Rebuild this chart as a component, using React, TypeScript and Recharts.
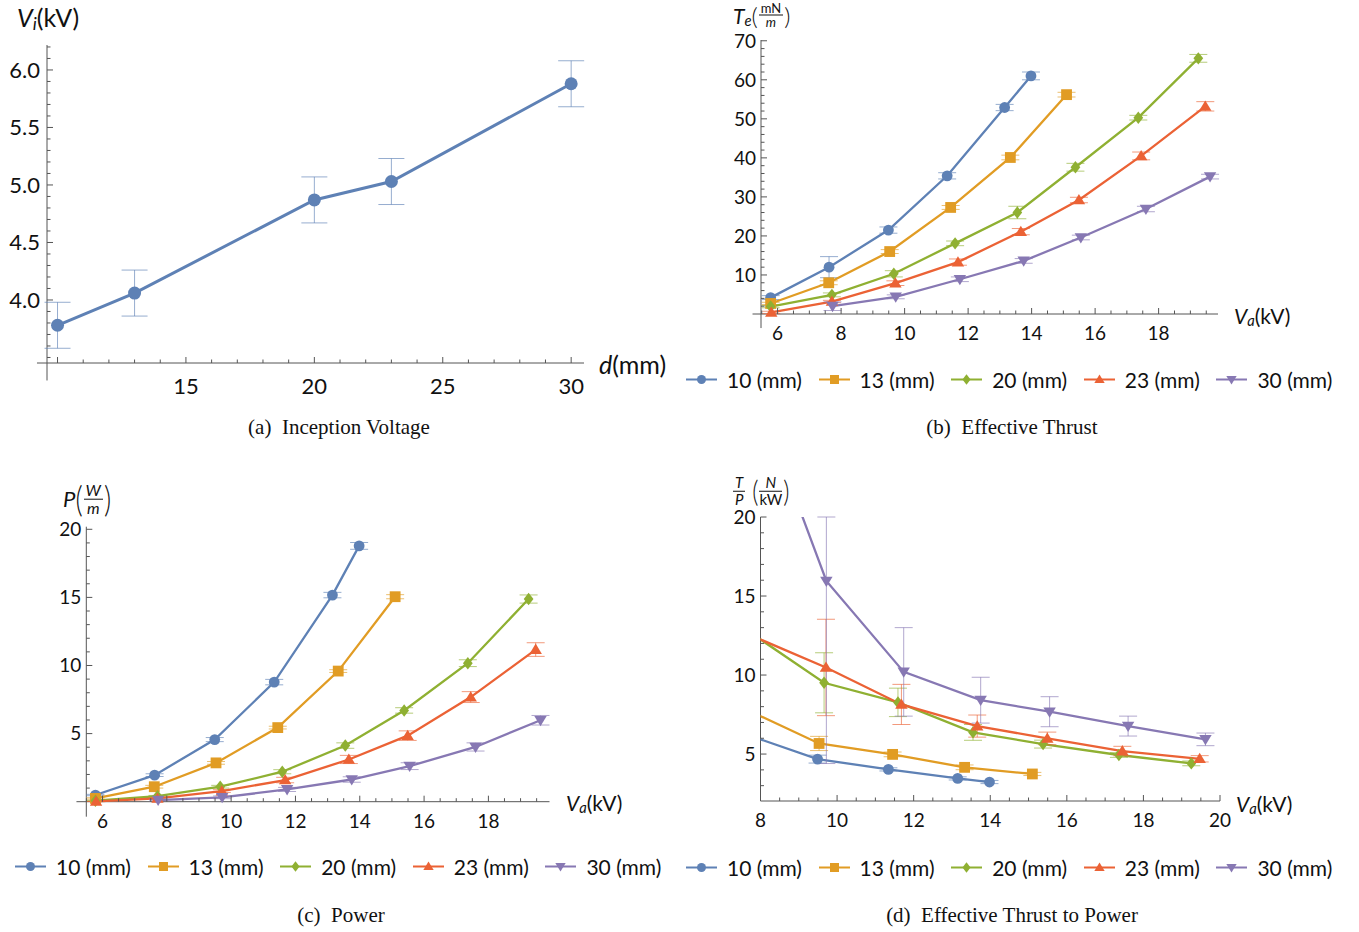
import React from 'react'
import { ErrorBar, Line, LineChart, ReferenceLine, XAxis, YAxis } from 'recharts'

const FONT = 'Lato, "Open Sans", sans-serif'
const SERIF = '"Liberation Serif", "DejaVu Serif", serif'
const AXIS = '#555'
const TEXT = '#111'

const COLORS = ['#5E81B5', '#E19C24', '#8FB032', '#EB6235', '#8778B3']
const GAP_LABELS = ['10 (mm)', '13 (mm)', '20 (mm)', '23 (mm)', '30 (mm)']
const MARKERS = ['circle', 'square', 'diamond', 'up', 'down']

// (a) inception voltage vs electrode gap
const GAP_MM = [10, 13, 20, 23, 30]
const INCEPTION_KV = [3.78, 4.06, 4.87, 5.03, 5.88]
const INCEPTION_ERR = [0.2, 0.2, 0.2, 0.2, 0.2]

// applied voltage (kV) for each gap
const VA_10 = [5.78, 7.62, 9.49, 11.34, 13.15, 13.98]
const VA_13 = [5.78, 7.61, 9.53, 11.45, 13.33, 15.1]
const VA_20 = [5.78, 7.71, 9.66, 11.59, 13.55, 15.38, 17.36, 19.25]
const VA_23 = [5.8, 7.71, 9.71, 11.68, 13.66, 15.49, 17.45, 19.47]
const VA_30 = [7.73, 9.72, 11.74, 13.75, 15.55, 17.6, 19.62]

// (b) effective thrust, mN/m
const THRUST_10 = [4.2, 12.0, 21.5, 35.4, 52.9, 61.0]
const THRUST_13 = [2.7, 8.0, 16.0, 27.3, 40.1, 56.2]
const THRUST_20 = [1.9, 4.9, 10.3, 18.1, 26.0, 37.6, 50.3, 65.5]
const THRUST_23 = [0.4, 3.2, 7.9, 13.3, 21.1, 29.2, 40.5, 53.2]
const THRUST_30 = [2.0, 4.4, 8.9, 13.6, 19.6, 26.9, 35.2]
const THRUST_ERR_10 = [0.5, 2.7, 0.8, 0.8, 0.8, 1.0]
const THRUST_ERR_13 = [0.3, 0.5, 0.5, 0.5, 0.6, 0.6]
const THRUST_ERR_20 = [0.3, 0.5, 0.8, 0.6, 1.6, 1.0, 0.6, 1.0]
const THRUST_ERR_23 = [0.3, 0.3, 0.6, 0.8, 0.8, 0.7, 1.0, 1.2]
const THRUST_ERR_30 = [1.1, 0.5, 0.6, 0.6, 0.6, 0.7, 0.6]

// (c) power, W/m
const POWER_10 = [0.49, 1.95, 4.56, 8.78, 15.17, 18.78]
const POWER_13 = [0.24, 1.1, 2.85, 5.44, 9.59, 15.05]
const POWER_20 = [0.07, 0.41, 1.1, 2.2, 4.12, 6.7, 10.17, 14.88]
const POWER_23 = [0.02, 0.24, 0.78, 1.59, 3.1, 4.85, 7.68, 11.17]
const POWER_30 = [0.12, 0.32, 0.9, 1.63, 2.61, 4.02, 5.98]
const POWER_ERR_10 = [0.05, 0.1, 0.15, 0.2, 0.2, 0.25]
const POWER_ERR_13 = [0.05, 0.1, 0.1, 0.1, 0.1, 0.15]
const POWER_ERR_20 = [0.03, 0.05, 0.1, 0.15, 0.2, 0.2, 0.25, 0.3]
const POWER_ERR_23 = [0.01, 0.05, 0.1, 0.2, 0.3, 0.35, 0.4, 0.5]
const POWER_ERR_30 = [0.05, 0.1, 0.15, 0.2, 0.25, 0.3, 0.35]

// (d) effective thrust to power, N/kW
const TP_10 = [8.6, 6.25, 4.68, 4.03, 3.46, 3.23]
const TP_13 = [11.2, 7.84, 5.67, 4.98, 4.16, 3.74]
const TP_20 = [25, 12.73, 9.51, 8.27, 6.37, 5.63, 4.94, 4.41]
const TP_23 = [30, 12.55, 10.48, 8.14, 6.77, 5.99, 5.19, 4.7]
const TP_30 = [28.9, 15.95, 10.2, 8.41, 7.68, 6.77, 5.93]
const TP_ERR_10 = [0, 0, 0.25, 0.1, 0.1, 0.1]
const TP_ERR_13 = [0, 0, 0.45, 0.15, 0.15, 0.1]
const TP_ERR_20 = [0, 0, 1.9, 0.9, 0.5, 0.25, 0.15, 0.15]
const TP_ERR_23 = [0, 0, 3.05, 1.27, 0.7, 0.4, 0.3, 0.2]
// the 9.7 kV bar runs off the top of the plot; only the visible part is kept
const TP_ERR_30 = [0, [11.55, 4.05], 2.8, 1.45, 0.95, 0.63, 0.4]

// tick labels
const A_X_LABELS = [15, 20, 25, 30]
const A_Y_LABELS = [4.0, 4.5, 5.0, 5.5, 6.0]
const VA_LABELS = [6, 8, 10, 12, 14, 16, 18]
const THRUST_LABELS = [10, 20, 30, 40, 50, 60, 70]
const POWER_LABELS = [5, 10, 15, 20]
const D_X_LABELS = [8, 10, 12, 14, 16, 18, 20]
const TP_LABELS = [5, 10, 15, 20]

const steps = (from: number, to: number, step: number) => {
  const out: number[] = []
  for (let v = from; v <= to + 1e-9; v += step) out.push(Math.round(v * 1000) / 1000)
  return out
}

const zip = (xs: number[], ys: number[], es: any[]) => xs.map((x, i) => ({ x, y: ys[i], e: es[i] }))

const VA_ALL = [VA_10, VA_13, VA_20, VA_23, VA_30]
const buildSeries = (ys: number[][], es: any[][]) =>
  ys.map((y, i) => ({ name: GAP_LABELS[i], color: COLORS[i], marker: MARKERS[i], data: zip(VA_ALL[i], y, es[i]) }))

const Marker = ({ kind, cx, cy, s, color }: any) => {
  if (cx == null || cy == null) return null
  switch (kind) {
    case 'square':
      return <rect x={cx - s} y={cy - s} width={2 * s} height={2 * s} fill={color} />
    case 'diamond':
      return <polygon points={`${cx},${cy - s * 1.15} ${cx + s * 0.9},${cy} ${cx},${cy + s * 1.15} ${cx - s * 0.9},${cy}`} fill={color} />
    case 'up':
      return <polygon points={`${cx},${cy - s * 1.1} ${cx + s * 1.15},${cy + s * 0.8} ${cx - s * 1.15},${cy + s * 0.8}`} fill={color} />
    case 'down':
      return <polygon points={`${cx},${cy + s * 1.1} ${cx + s * 1.15},${cy - s * 0.8} ${cx - s * 1.15},${cy - s * 0.8}`} fill={color} />
    default:
      return <circle cx={cx} cy={cy} r={s} fill={color} />
  }
}

const has = (list: number[], v: number) => list.some((m) => Math.abs(m - v) < 1e-6)

const Panel = (p: any) => {
  const { left, top, width, height, plot, xDomain, yDomain, xMajor, xMinor, xLabels, yMajor, yMinor, yLabels } = p
  const fmt = p.yFmt || ((v: number) => `${v}`)
  const xTick = (t: any) => {
    const v = t.payload.value
    const major = has(xMajor, v)
    return (
      <g>
        <line x1={t.x} y1={t.y} x2={t.x} y2={t.y - (major ? 6 : 3.5)} stroke={AXIS} />
        {has(xLabels, v) && (
          <text x={t.x} y={t.y + p.xOff} textAnchor="middle" fontSize={p.fs} fontFamily={FONT} fill={TEXT}>
            {v}
          </text>
        )}
      </g>
    )
  }
  const yTick = (t: any) => {
    const v = t.payload.value
    const major = has(yMajor, v)
    return (
      <g>
        <line x1={t.x} y1={t.y} x2={t.x + (major ? 6 : 3.5)} y2={t.y} stroke={AXIS} />
        {has(yLabels, v) && (
          <text x={t.x - p.yGap} y={t.y + p.fs * 0.36} textAnchor="end" fontSize={p.fs} fontFamily={FONT} fill={TEXT}>
            {fmt(v)}
          </text>
        )}
      </g>
    )
  }
  const xStart = p.xExt ?? xDomain[0]
  const yStart = p.yExt ?? yDomain[0]
  return (
    <div style={{ position: 'absolute', left, top }}>
      <LineChart width={width} height={height} margin={{ top: plot.top, right: width - plot.right, bottom: 0, left: 0 }}>
        <XAxis
          type="number"
          dataKey="x"
          domain={xDomain}
          allowDataOverflow={!!p.clip}
          ticks={[...xMajor, ...xMinor].sort((a, b) => a - b)}
          interval={0}
          height={height - plot.bottom}
          tickSize={0}
          tickMargin={0}
          axisLine={false}
          tickLine={false}
          tick={xTick}
        />
        <YAxis
          type="number"
          domain={yDomain}
          allowDataOverflow={!!p.clip}
          ticks={[...yMajor, ...yMinor].sort((a, b) => a - b)}
          interval={0}
          width={plot.left}
          tickSize={0}
          tickMargin={0}
          axisLine={false}
          tickLine={false}
          tick={yTick}
        />
        <ReferenceLine segment={[{ x: xStart, y: yDomain[0] }, { x: xDomain[1], y: yDomain[0] }]} stroke={AXIS} ifOverflow="visible" />
        <ReferenceLine segment={[{ x: xDomain[0], y: yStart }, { x: xDomain[0], y: yDomain[1] }]} stroke={AXIS} ifOverflow="visible" />
        {p.series.map((s: any) => (
          <Line
            key={s.name}
            data={s.data}
            dataKey="y"
            stroke={s.color}
            strokeWidth={p.lw}
            isAnimationActive={false}
            activeDot={false}
            dot={(d: any) => <Marker key={`${s.name}-${d.index}`} kind={s.marker} cx={d.cx} cy={d.cy} s={p.ms} color={s.color} />}
          >
            <ErrorBar dataKey="e" direction="y" width={p.cap} stroke={s.color} strokeOpacity={0.65} strokeWidth={1} />
          </Line>
        ))}
      </LineChart>
    </div>
  )
}

const Sub = ({ c }: any) => <span style={{ fontStyle: 'italic', fontSize: '0.7em', position: 'relative', top: '0.35em' }}>{c}</span>

const Frac = ({ num, den, size, numItalic, denItalic, lh = 1.05 }: any) => (
  <span style={{ display: 'inline-flex', flexDirection: 'column', alignItems: 'center', fontSize: size, lineHeight: lh, margin: '0 1px' }}>
    <span style={{ fontStyle: numItalic ? 'italic' : 'normal', padding: '0 2px' }}>{num}</span>
    <span style={{ borderTop: `1px solid ${TEXT}`, alignSelf: 'stretch' }} />
    <span style={{ fontStyle: denItalic ? 'italic' : 'normal' }}>{den}</span>
  </span>
)

const Paren = ({ c, size, stretch = 1.25 }: any) => (
  <span style={{ fontSize: size, fontWeight: 300, display: 'inline-block', transform: `scaleY(${stretch})`, lineHeight: 1 }}>{c}</span>
)

const Label = ({ left, top, size, children }: any) => (
  <div style={{ position: 'absolute', left, top, transform: 'translateY(-50%)', display: 'flex', alignItems: 'center', whiteSpace: 'nowrap', fontFamily: FONT, fontSize: size, color: TEXT, lineHeight: 1 }}>
    {children}
  </div>
)

const Legend = ({ left, top }: any) => (
  <>
    {GAP_LABELS.map((name, i) => (
      <div key={name} style={{ position: 'absolute', left: left + i * 132.6, top, transform: 'translateY(-50%)', display: 'flex', alignItems: 'center' }}>
        <svg width={31} height={14}>
          <line x1={0} y1={7} x2={31} y2={7} stroke={COLORS[i]} strokeWidth={2.2} />
          <Marker kind={MARKERS[i]} cx={15.5} cy={7} s={4.5} color={COLORS[i]} />
        </svg>
        <span style={{ marginLeft: 10, fontSize: 21, fontFamily: FONT, color: TEXT, lineHeight: 1 }}>{name}</span>
      </div>
    ))}
  </>
)

const Caption = ({ cx, cy, text }: any) => (
  <div style={{ position: 'absolute', left: cx, top: cy, transform: 'translate(-50%, -50%)', fontFamily: SERIF, fontSize: 21, color: TEXT, whiteSpace: 'pre' }}>
    {text}
  </div>
)

const THRUST_SERIES = buildSeries(
  [THRUST_10, THRUST_13, THRUST_20, THRUST_23, THRUST_30],
  [THRUST_ERR_10, THRUST_ERR_13, THRUST_ERR_20, THRUST_ERR_23, THRUST_ERR_30],
)
const POWER_SERIES = buildSeries(
  [POWER_10, POWER_13, POWER_20, POWER_23, POWER_30],
  [POWER_ERR_10, POWER_ERR_13, POWER_ERR_20, POWER_ERR_23, POWER_ERR_30],
)
const TP_SERIES = buildSeries([TP_10, TP_13, TP_20, TP_23, TP_30], [TP_ERR_10, TP_ERR_13, TP_ERR_20, TP_ERR_23, TP_ERR_30])
const INCEPTION_SERIES = [{ name: 'inception', color: COLORS[0], marker: 'circle', data: zip(GAP_MM, INCEPTION_KV, INCEPTION_ERR) }]

const App = () => {
  return (
    <div style={{ position: 'absolute', left: 0, top: 0, width: 1359, height: 932, background: '#fff', overflow: 'hidden' }}>
      {/* (a) */}
      <Panel
        left={0} top={0} width={600} height={400}
        plot={{ left: 47, top: 45, right: 584, bottom: 363 }}
        xDomain={[9.59, 30.5]} yDomain={[3.452, 6.217]} xExt={9.2} yExt={3.3}
        xMajor={[10, 15, 20, 25, 30]} xMinor={steps(11, 29, 1).filter((v) => v % 5 !== 0)} xLabels={A_X_LABELS}
        yMajor={A_Y_LABELS} yMinor={steps(3.5, 6.2, 0.1).filter((v) => !has(A_Y_LABELS, v))} yLabels={A_Y_LABELS}
        yFmt={(v: number) => v.toFixed(1)}
        fs={22} xOff={31} yGap={7} lw={3} ms={6.5} cap={13}
        series={INCEPTION_SERIES}
      />
      <Label left={17} top={17} size={25}>
        <span style={{ fontStyle: 'italic' }}>V</span><Sub c="i" />(kV)
      </Label>
      <Label left={599} top={364} size={25}>
        <span style={{ fontStyle: 'italic' }}>d</span>(mm)
      </Label>
      <Caption cx={339} cy={427} text="(a)  Inception Voltage" />

      {/* (b) */}
      <Panel
        left={680} top={0} width={600} height={350}
        plot={{ left: 81, top: 40, right: 538, bottom: 314 }}
        xDomain={[5.477, 19.87]} yDomain={[0, 70.2]} xExt={5.21} yExt={-3.6}
        xMajor={VA_LABELS} xMinor={steps(5.5, 19.5, 0.5).filter((v) => !has(VA_LABELS, v))} xLabels={VA_LABELS}
        yMajor={THRUST_LABELS} yMinor={steps(2, 68, 2).filter((v) => !has(THRUST_LABELS, v))} yLabels={THRUST_LABELS}
        fs={19} xOff={26} yGap={5} lw={2.3} ms={5.4} cap={9}
        series={THRUST_SERIES}
      />
      <Label left={733} top={15} size={21}>
        <span style={{ fontStyle: 'italic' }}>T</span><Sub c="e" />
        <Paren c="(" size={24} stretch={1} />
        <Frac num="mN" den="m" size={13} denItalic lh={1} />
        <Paren c=")" size={24} stretch={1} />
      </Label>
      <Label left={1234} top={315} size={21}>
        <span style={{ fontStyle: 'italic' }}>V</span><Sub c="a" />(kV)
      </Label>
      <Legend left={686} top={379} />
      <Caption cx={1012} cy={427} text="(b)  Effective Thrust" />

      {/* (c) */}
      <Panel
        left={0} top={470} width={600} height={370}
        plot={{ left: 86.3, top: 56.7, right: 549.5, bottom: 331.7 }}
        xDomain={[5.496, 19.9]} yDomain={[0, 20.19]} xExt={5.19} yExt={-1.1}
        xMajor={VA_LABELS} xMinor={steps(5.5, 19.5, 0.5).filter((v) => !has(VA_LABELS, v))} xLabels={VA_LABELS}
        yMajor={POWER_LABELS} yMinor={steps(1, 19, 1).filter((v) => !has(POWER_LABELS, v))} yLabels={POWER_LABELS}
        fs={19} xOff={26} yGap={5} lw={2.3} ms={5.4} cap={9}
        series={POWER_SERIES}
      />
      <Label left={63} top={499} size={22}>
        <span style={{ fontStyle: 'italic' }}>P</span>
        <Paren c="(" size={28} />
        <Frac num="W" den="m" size={16} numItalic denItalic />
        <Paren c=")" size={28} />
      </Label>
      <Label left={566} top={802} size={21}>
        <span style={{ fontStyle: 'italic' }}>V</span><Sub c="a" />(kV)
      </Label>
      <Legend left={15} top={866} />
      <Caption cx={341} cy={915} text="(c)  Power" />

      {/* (d) */}
      <Panel
        left={680} top={470} width={600} height={370}
        plot={{ left: 80.5, top: 47, right: 540, bottom: 331 }}
        xDomain={[8, 20]} yDomain={[2.03, 20]} clip
        xMajor={D_X_LABELS} xMinor={steps(8.5, 19.5, 0.5).filter((v) => !has(D_X_LABELS, v))} xLabels={D_X_LABELS}
        yMajor={TP_LABELS} yMinor={steps(3, 19, 1).filter((v) => !has(TP_LABELS, v))} yLabels={TP_LABELS}
        fs={19} xOff={26} yGap={5} lw={2.3} ms={5.4} cap={9}
        series={TP_SERIES}
      />
      <Label left={732} top={491} size={20}>
        <Frac num="T" den="P" size={15} numItalic denItalic />
        <span style={{ width: 6 }} />
        <Paren c="(" size={24} />
        <Frac num="N" den="kW" size={15} numItalic />
        <Paren c=")" size={24} />
      </Label>
      <Label left={1236} top={803} size={21}>
        <span style={{ fontStyle: 'italic' }}>V</span><Sub c="a" />(kV)
      </Label>
      <Legend left={686} top={867} />
      <Caption cx={1012} cy={915} text="(d)  Effective Thrust to Power" />
    </div>
  )
}

export default App
